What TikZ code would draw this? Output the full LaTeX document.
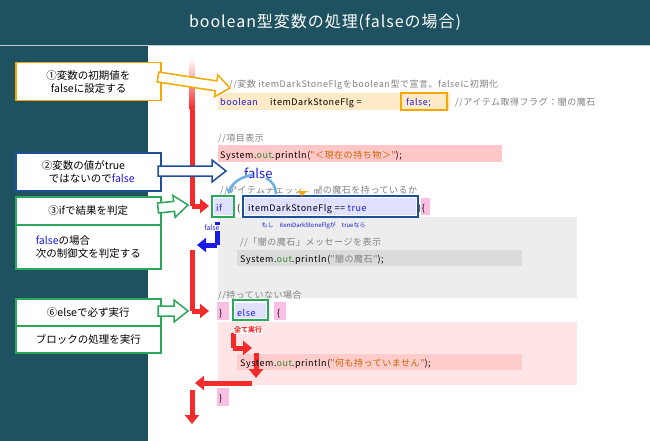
\documentclass[tikz,border=0pt]{standalone}
\usepackage{fontspec}
\setmainfont{Noto Sans CJK JP}
\newfontfamily\cd[LetterSpace=6]{Noto Sans CJK JP}
\usetikzlibrary{arrows.meta,calc}
\definecolor{bgteal}{HTML}{1F5260}
\definecolor{orng}{HTML}{F5A800}
\definecolor{bluebox}{HTML}{1F4E9A}
\definecolor{grn}{HTML}{2AA85A}
\definecolor{kw}{HTML}{1A1AE6}
\definecolor{cmt}{HTML}{808080}
\definecolor{str}{HTML}{C86400}
\definecolor{og}{HTML}{2E8B2E}
\definecolor{rd}{HTML}{F52A2A}
\tikzset{
  code/.style={anchor=base west,inner sep=0pt,font=\cd\fontsize{9}{11}\selectfont},
  callout/.style={draw=#1,line width=1.5pt,fill=white,anchor=north west,minimum width=145pt,align=left,font=\fontsize{10.5}{13}\selectfont,inner xsep=6pt},
  redarrow/.style={rd,line width=5pt,-{Triangle[length=9pt,width=14pt]}},
  bluearrow/.style={kw,line width=5pt,-{Triangle[length=9pt,width=14pt]}},
}
\newcommand\blockarrow[3]{%
  \draw[#1,line width=1.5pt,fill=white,line join=miter]
   ($(#2)!5pt!90:(#3)$) -- ($($(#3)!14pt!(#2)$)!5pt!-90:(#2)$) -- ($($(#3)!14pt!(#2)$)!11pt!-90:(#2)$) -- (#3)
   -- ($($(#3)!14pt!(#2)$)!11pt!90:(#2)$) -- ($($(#3)!14pt!(#2)$)!5pt!90:(#2)$) -- ($(#2)!5pt!-90:(#3)$) -- cycle;}
\begin{document}
\begin{tikzpicture}[x=1pt,y=-1pt]
\useasboundingbox (0,0) rectangle (650,441);
\fill[bgteal] (0,0) rectangle (650,441);
\fill[white] (148,46) rectangle (650,441);
\draw[white!70!bgteal,line width=0.6pt] (0,45.5) -- (650,45.5);
\node[white,font=\cd\fontsize{16}{18}\selectfont] (title) at (325,22) {boolean型変数の処理(falseの場合)};

% code backgrounds
\fill[yellow!25!orange!20] (218,93) rectangle (450,110);
\fill[red!22] (218,145) rectangle (502,162);
\fill[gray!14] (218,217) rectangle (577,298);
\fill[gray!28] (237,250) rectangle (522,266);
\fill[red!10] (218,322) rectangle (577,385);
\fill[red!20] (237,354) rectangle (522,370);
\fill[blue!12] (214,198) rectangle (233,215);
\fill[blue!12] (245,198) rectangle (416,215);
\fill[magenta!25] (421,198) rectangle (430,215);
\fill[magenta!25] (217,302) rectangle (229,320);
\fill[magenta!25] (274,302) rectangle (286,320);
\fill[blue!12] (235,303) rectangle (266,318);
\fill[magenta!25] (217,388) rectangle (229,406);

% red flow line
\shade[top color=white,bottom color=rd] (189.5,58) rectangle (194.5,110);
\coordinate (r1) at (192,110); \coordinate (r2) at (192,206); \coordinate (r3) at (209,206);
\draw[rd,line width=5pt] (r1) -- (r2);
\draw[redarrow] (r2) -- (r3);
\coordinate (r4) at (192,250); \coordinate (r5) at (192,311); \coordinate (r6) at (209,311);
\draw[rd,line width=5pt] (r4) -- (r5);
\draw[redarrow] (r5) -- (r6);
\coordinate (r7) at (233,333); \coordinate (r8) at (233,348); \coordinate (r9) at (252,348);
\draw[rd,line width=5pt] (r7) -- (r8); \draw[redarrow] (r8) -- (r9);
\coordinate (r10) at (256,353); \coordinate (r11) at (256,378);
\draw[redarrow] (r10) -- (r11);
\coordinate (r12) at (252,383); \coordinate (r13) at (195,383);
\draw[redarrow] (r12) -- (r13);
\coordinate (r14) at (192,390); \coordinate (r15) at (192,424);
\draw[redarrow] (r14) -- (r15);
\coordinate (b1) at (217,222); \coordinate (b2) at (217,245); \coordinate (b3) at (197,245);
\draw[kw,line width=5pt] (b1) -- (b2); \draw[bluearrow] (b2) -- (b3);
\node[kw,font=\fontsize{7}{8}\selectfont,fill=white,inner sep=0.5pt] (bf) at (212,228) {false};
\node[rd,font=\bfseries\fontsize{7}{8}\selectfont,fill=white,inner sep=0.5pt] (zen) at (248,330) {全て実行};

% code text
\node[code,cmt] (c1) at (229,88) {//変数 itemDarkStoneFlgをboolean型で宣言。falseに初期化};
\node[code,kw] (c2a) at (220,106) {boolean};
\node[code] (c2b) at (270,106) {itemDarkStoneFlg =};
\node[code,kw] (c2c) at (406,106) {false;};
\node[code,cmt] (c2d) at (455,106) {//アイテム取得フラグ：闇の魔石};
\draw[orng,line width=2pt] (401,93) rectangle (447,110);
\node[code,cmt] (c3) at (218,141) {//項目表示};
\node[code] (c4) at (220,158) {System.\textcolor{og}{out}.println(\textcolor{str}{"＜現在の持ち物＞"});};
\node[code,cmt] (c5) at (220,193) {//アイテムチェック：闇の魔石を持っているか};
\node[code,kw] (c6a) at (216,211) {if};
\node[code] (c6b) at (237,211) {(};
\node[code] (c6c) at (248,211) {itemDarkStoneFlg == \textcolor{kw}{true}};
\node[code] (c6d) at (418,211) {)\{};
\draw[grn,line width=2pt] (212,196) rectangle (234,217);
\draw[bluebox,line width=2pt] (243,196) rectangle (418,217);
\node[kw,font=\fontsize{6}{7}\selectfont,anchor=base west] (moshi) at (258,227) {もし　itemDarkStoneFlgが　trueなら};
\node[code,cmt] (c7) at (240,245) {//「闇の魔石」メッセージを表示};
\node[code] (c8) at (240,262) {System.\textcolor{og}{out}.println(\textcolor{cmt}{"闇の魔石"});};
\node[code,cmt] (c9) at (218,298) {//持っていない場合};
\node[code] (c10a) at (219,316) {\}};
\node[code,kw] (c10b) at (237,316) {else};
\node[code] (c10c) at (277,316) {\{};
\draw[grn,line width=2pt] (233,300) rectangle (268,320);
\node[code] (c11) at (240,366) {System.\textcolor{og}{out}.println(\textcolor{str}{"何も持っていません"});};
\node[code] (c12) at (219,401) {\}};

% false bubble
\fill[white] (255,176) rectangle (300,188);
\node[kw,font=\fontsize{13}{14}\selectfont,anchor=base west,inner sep=1pt] (fl) at (243,178) {false};
\draw[cyan!70!blue!60,line width=2.5pt,-{Triangle[length=5pt,width=7pt]}] (253,175) to[bend right=30] (228,194);
\draw[cyan!70!blue!60,line width=2.5pt] (276,194) to[bend right=30] (266,178);
\node[fill=orng,white,font=\fontsize{7}{8}\selectfont,inner sep=1.5pt,minimum width=34pt] (tag) at (302,185) {false};
\fill[orng] (297,191) -- (307,191) -- (302,196) -- cycle;

% callouts
\node[callout=orng,minimum height=38pt] (k1) at (15,62) {①変数の初期値を\\\ \ falseに設定する};
\node[callout=bluebox,minimum height=38pt] (k2) at (15,152) {②変数の値がtrue\\\ \ \ ではないので\textcolor{kw}{false}};
\node[callout=grn,minimum height=28pt] (k3) at (15,196) {③ifで結果を判定};
\node[callout=grn,minimum height=44pt] (k4) at (15,224) {\textcolor{kw}{false}の場合\\次の制御文を判定する};
\node[callout=grn,minimum height=27pt] (k5) at (15,298) {⑥elseで必ず実行};
\node[callout=grn,minimum height=27pt] (k6) at (15,325) {ブロックの処理を実行};
\coordinate (a1s) at (158,77); \coordinate (a1e) at (230,88);
\blockarrow{orng}{a1s}{a1e}
\coordinate (a2s) at (158,171); \coordinate (a2e) at (226,171);
\blockarrow{bluebox}{a2s}{a2e}
\coordinate (a3s) at (158,208); \coordinate (a3e) at (188,205);
\blockarrow{grn}{a3s}{a3e}
\coordinate (a5s) at (158,311); \coordinate (a5e) at (188,311);
\blockarrow{grn}{a5s}{a5e}
\end{tikzpicture}
\end{document}
